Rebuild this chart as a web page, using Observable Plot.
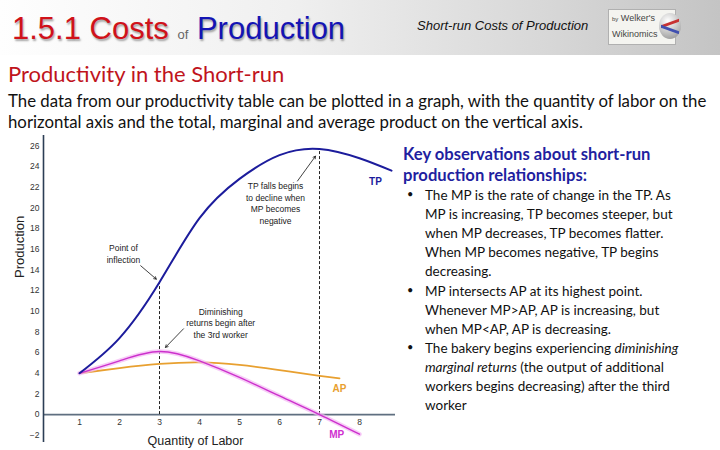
<!DOCTYPE html>
<html><head><meta charset="utf-8">
<script src="https://cdn.jsdelivr.net/npm/d3@7"></script>
<script src="https://cdn.jsdelivr.net/npm/@observablehq/plot@0.6"></script>
<style>
  html,body{margin:0;padding:0;background:#fff;width:720px;height:450px;overflow:hidden;position:relative;}
  .abs{position:absolute;white-space:nowrap;}
  #header{position:absolute;left:0;top:0;width:720px;height:55px;background:linear-gradient(to right,#fefefe 0%,#f0f0f0 40%,#d8d8d8 75%,#c4c4c4 100%);}
  .t1{font-family:"Liberation Sans",Arial,sans-serif;font-size:31px;text-shadow:1px 2px 2px rgba(0,0,0,0.35);}
  .body{font-family:Lato,"Open Sans",sans-serif;}
  #notes div{position:absolute;white-space:nowrap;}
</style></head>
<body>
<div id="header"></div>
<div class="abs t1" style="left:12px;top:11px;"><span style="color:#d0121a">1.5.1 Costs</span> <span style="color:#666;font-size:13px;text-shadow:none">of</span> <span style="color:#1414b4">Production</span></div>
<div class="abs" style="left:417px;top:18px;font-family:'Liberation Sans',Arial,sans-serif;font-style:italic;font-size:13px;color:#111;">Short-run Costs of Production</div>
<div class="abs" style="left:608px;top:9px;width:68px;height:36px;background:#f4f4f0;border:1px solid #b0b0b0;box-sizing:border-box;">
  <div class="abs" style="left:3px;top:3px;font-family:'Liberation Sans',Arial,sans-serif;font-size:9px;color:#444;"><span style="font-size:6px">by</span> Welker's</div>
  <div class="abs" style="left:3px;top:19px;font-family:'Liberation Sans',Arial,sans-serif;font-size:9px;color:#444;">Wikinomics</div>
  <div class="abs" style="left:50px;top:3px;width:22px;height:26px;border-radius:50%;background:radial-gradient(circle at 40% 30%,#fff,#bbb 60%,#888);overflow:hidden;">
    <div style="position:absolute;left:2px;top:9px;width:18px;height:3px;background:#c83232;transform:skewY(-20deg)"></div>
    <div style="position:absolute;left:2px;top:15px;width:18px;height:3px;background:#4050b0;transform:skewY(20deg)"></div>
  </div>
</div>
<div class="abs body" style="left:8px;top:60px;font-size:22px;color:#c0141c;">Productivity in the Short-run</div>
<div class="abs body" style="left:8px;top:90px;font-size:16.8px;color:#111;line-height:21px;">The data from our productivity table can be plotted in a graph, with the quantity of labor on the<br>horizontal axis and the total, marginal and average product on the vertical axis.</div>
<div id="chart" style="position:absolute;left:0;top:130px;"></div>
<div id="notes" class="body" style="position:absolute;left:0;top:0;"></div>
<script>
// ---- data ----
const labor   = [1, 2, 3, 4, 5, 6, 7, 8, 8.8];
const tp      = [4, 7.4, 12.8, 19.0, 22.8, 25.1, 25.7, 24.8, 23.6];
const mpLabor = [1, 2, 3, 4, 5, 6, 7, 8];
const mp      = [4, 5.2, 6.1, 5.2, 3.6, 1.8, 0, -1.9];
const apLabor = [1, 2, 3, 4, 5, 6, 7, 7.5];
const ap      = [4, 4.5, 4.9, 5.05, 4.8, 4.3, 3.75, 3.5];
const xTicks  = [1, 2, 3, 4, 5, 6, 7, 8];
const yTicks  = [-2, 0, 2, 4, 6, 8, 10, 12, 14, 16, 18, 20, 22, 24, 26];
const dashedAt = [3, 7];
const seriesLabels = [
  {text: "TP", x: 8.4, y: 22.5, color: "#1c1c9c"},
  {text: "AP", x: 7.5, y: 2.5, color: "#e8a030"},
  {text: "MP", x: 7.43, y: -2.0, color: "#d030d0"}
];
const notes = [
  {text: "Point of\ninflection", x: 2.1, y: 15.6},
  {text: "TP falls begins\nto decline when\nMP becomes\nnegative", x: 5.9, y: 20.5},
  {text: "Diminishing\nreturns begin after\nthe 3rd worker", x: 4.53, y: 8.9}
];
const arrows = [
  {x1: 2.53, y1: 14.4, x2: 2.92, y2: 13.1},
  {x1: 6.45, y1: 22.6, x2: 6.9, y2: 25.0},
  {x1: 3.6, y1: 8.3, x2: 3.15, y2: 6.5}
];
const noteHeading = ["Key observations about short-run", "production relationships:"];
const bullets = [
  ["The MP is the rate of change in the TP. As", "MP is increasing, TP becomes steeper, but", "when MP decreases, TP becomes flatter.", "When MP becomes negative, TP begins", "decreasing."],
  ["MP intersects AP at its highest point.", "Whenever MP>AP, AP is increasing, but", "when MP<AP, AP is decreasing."],
  ["The bakery begins experiencing <i>diminishing</i>", "<i>marginal returns</i> (the output of additional", "workers begins decreasing) after the third", "worker"]
];

const tpData = labor.map((l, i) => ({l, v: tp[i]}));
const mpData = mpLabor.map((l, i) => ({l, v: mp[i]}));
const apData = apLabor.map((l, i) => ({l, v: ap[i]}));
const dashData = dashedAt.map(l => ({l, top: tp[labor.indexOf(l)]}));

const font = "'Liberation Sans', Arial, sans-serif";
const chart = Plot.plot({
  width: 400, height: 320,
  marginLeft: 43, marginRight: 5, marginTop: 5, marginBottom: 8,
  style: {fontFamily: font, background: "transparent"},
  x: {domain: [0.1, 8.9], axis: null},
  y: {domain: [-2.7, 27], axis: null},
  marks: [
    Plot.ruleY([0], {stroke: "#5f6f80", strokeWidth: 1.6}),
    Plot.ruleX(dashData, {x: "l", y1: 0, y2: "top", stroke: "#222", strokeWidth: 1, strokeDasharray: "3,2"}),
    Plot.line(apData, {x: "l", y: "v", stroke: "#e8a030", strokeWidth: 1.8, curve: "natural"}),
    Plot.line(mpData, {x: "l", y: "v", stroke: "#f4b8f4", strokeWidth: 4.5, strokeOpacity: 0.7, curve: "natural"}),
    Plot.line(mpData, {x: "l", y: "v", stroke: "#cc30cc", strokeWidth: 1.4, curve: "natural"}),
    Plot.line(tpData, {x: "l", y: "v", stroke: "#1c1c9c", strokeWidth: 2, curve: "natural"}),
    Plot.ruleX([0.1], {stroke: "#2c3e55", strokeWidth: 1.6}),
    Plot.axisY(yTicks, {tickSize: 0, tickPadding: 4, fontSize: 8.5, color: "#333", label: null}),
    Plot.text(xTicks, {x: d => d, y: 0, dy: 8, fontSize: 8.5, fill: "#333"}),
    Plot.text(["Quantity of Labor"], {x: 3.9, y: -2.55, fontSize: 12.5, fill: "#222"}),
    Plot.text(["Production"], {frameAnchor: "left", dx: -24, dy: -11, rotate: -90, fontSize: 13, fill: "#222"}),
    Plot.text(notes, {x: "x", y: "y", text: "text", fontSize: 8.5, lineHeight: 1.35, fill: "#222"}),
    Plot.arrow(arrows, {x1: "x1", y1: "y1", x2: "x2", y2: "y2", stroke: "#111", strokeWidth: 0.8, headLength: 5}),
    Plot.text(seriesLabels, {x: "x", y: "y", text: "text", fill: "color", fontWeight: "bold", fontSize: 10})
  ]
});
document.getElementById("chart").appendChild(chart);

// right-hand notes
const notesEl = document.getElementById("notes");
let html = "";
noteHeading.forEach((t, i) => {
  html += `<div style="left:403px;top:${144 + i * 21}px;font-size:16.6px;font-weight:bold;color:#1f1fa0;">${t}</div>`;
});
let y = 187;
bullets.forEach(lines => {
  html += `<div style="left:407px;top:${y}px;font-size:11px;color:#111;">&bull;</div>`;
  lines.forEach(t => {
    const safe = t.replace(/MP>AP/g, "MP&gt;AP").replace(/MP<AP/g, "MP&lt;AP");
    html += `<div style="left:425px;top:${y}px;font-size:13.5px;color:#111;">${safe}</div>`;
    y += 19.1;
  });
});
notesEl.innerHTML = html;
</script>
</body></html>
